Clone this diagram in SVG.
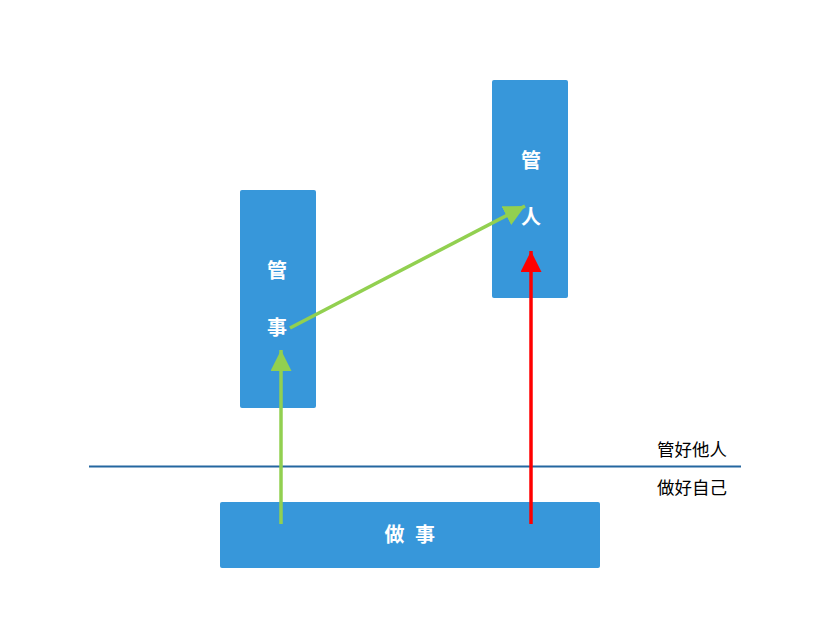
<svg xmlns="http://www.w3.org/2000/svg" width="822" height="642" viewBox="0 0 822 642">
<style>
.box{fill:#3797da}
.bt{fill:#fff;font-family:"Noto Sans CJK SC","Noto Sans",sans-serif;font-size:20px;font-weight:bold;text-anchor:middle}
.lbl{fill:#000;font-family:"Noto Sans CJK SC","Noto Sans",sans-serif;font-size:17.5px}
.g{stroke:#92d050;stroke-width:3.5;fill:none}
.r{stroke:#ff0000;stroke-width:3.5;fill:none}
</style>
<defs>
<marker id="ag" viewBox="0 0 10 10" refX="10" refY="5" markerWidth="6" markerHeight="6" markerUnits="strokeWidth" orient="auto"><path d="M0,0 L10,5 L0,10 Z" fill="#92d050"/></marker>
<marker id="ar" viewBox="0 0 10 10" refX="10" refY="5" markerWidth="6" markerHeight="6" markerUnits="strokeWidth" orient="auto"><path d="M0,0 L10,5 L0,10 Z" fill="#ff0000"/></marker>
</defs>
<line x1="89" y1="466.5" x2="741" y2="466.5" stroke="#2467a0" stroke-width="2"/>
<text class="lbl" x="657" y="456">管好他人</text>
<text class="lbl" x="657" y="494">做好自己</text>
<g id="node-guanshi"><rect class="box" x="240" y="190" width="76" height="218" rx="2"/><text class="bt" x="277" y="278">管</text><text class="bt" x="277" y="335">事</text></g>
<g id="node-guanren"><rect class="box" x="492" y="80" width="76" height="218" rx="2"/><text class="bt" x="531" y="168">管</text><text class="bt" x="531" y="224">人</text></g>
<g id="node-zuoshi"><rect class="box" x="220" y="502" width="380" height="66" rx="2"/><text class="bt" x="394.5" y="542">做</text><text class="bt" x="425" y="542">事</text></g>
<g id="connectors">
<line class="g" x1="281" y1="524" x2="281" y2="350" marker-end="url(#ag)"/>
<line class="g" x1="290" y1="328" x2="525" y2="206" marker-end="url(#ag)"/>
<line class="r" x1="531" y1="524" x2="531" y2="251" marker-end="url(#ar)"/>
</g>
</svg>
